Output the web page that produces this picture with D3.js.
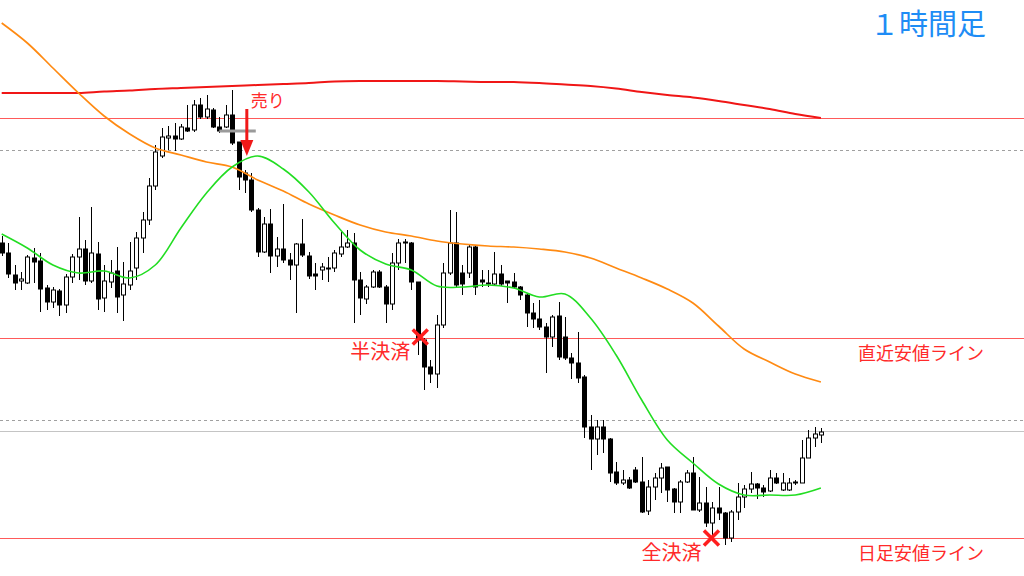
<!DOCTYPE html>
<html><head><meta charset="utf-8">
<script src="https://cdn.jsdelivr.net/npm/d3@7"></script>
<style>html,body{margin:0;padding:0;background:#fff;}svg{display:block;}</style>
</head><body>
<svg id="chart" width="1024" height="576"></svg>
<script>
// ---- Data (prices in chart units) ----
const candleOpen = [357,347,325,319,317,342,339,312,298,309,295,323,343,351,319,346,302,318,329,305,315,332,362,380,414,444,462,464,461,472,470,495,483,490,473,473,485,458,427,420,390,348,376,344,351,340,335,356,344,326,330,331,332,346,353,357,320,301,313,328,313,296,337,357,357,318,260,233,226,275,327,357,327,327,353,320,316,316,326,319,318,313,305,287,281,273,263,284,263,242,237,223,173,161,173,161,128,117,120,130,118,89,113,122,133,111,98,118,127,90,97,77,92,87,62,88,103,111,116,112,109,122,110,110,117,117,142,162,165];
const candleHigh = [364,357,335,328,345,352,347,315,313,311,326,346,383,360,393,358,335,340,353,338,358,368,388,422,455,472,474,477,476,495,500,502,505,492,483,495,510,458,430,427,392,383,391,363,396,347,357,381,348,337,337,343,350,368,370,367,328,315,330,330,315,347,361,361,358,318,262,240,285,337,390,388,335,355,355,330,330,348,335,319,327,314,307,297,300,277,285,298,283,247,268,225,185,180,180,162,138,130,123,133,143,120,127,137,133,112,120,130,143,123,113,98,113,88,90,117,115,128,117,115,130,127,127,122,120,160,170,173,172];
const candleLow = [344,322,310,310,316,317,288,290,292,284,287,317,320,315,317,290,288,312,287,279,310,320,347,375,410,442,450,449,460,468,468,481,481,472,467,472,455,410,407,388,343,347,327,333,337,320,287,343,321,310,320,318,328,343,352,277,285,296,312,312,277,290,330,337,310,245,210,217,212,272,325,313,305,322,305,313,313,315,314,297,311,300,273,272,270,227,253,240,240,221,217,162,130,145,147,118,115,115,111,117,87,85,100,107,98,87,87,117,90,88,73,63,80,55,58,80,92,107,101,103,108,116,109,109,115,117,142,153,157];
const candleClose = [347,326,317,321,343,338,311,298,310,295,323,343,351,319,347,301,319,327,303,316,329,362,380,414,448,463,464,461,473,469,495,483,491,473,469,485,457,423,420,390,348,376,344,351,340,335,356,345,324,324,333,332,347,353,357,320,302,313,328,313,296,337,357,358,318,260,233,226,275,327,357,315,316,353,313,318,317,326,316,317,313,305,287,281,273,263,283,243,242,237,222,173,161,173,161,127,117,120,112,118,88,113,122,132,110,98,118,127,90,97,77,92,87,62,88,103,111,116,112,108,122,117,117,117,118,142,162,166,168];

// Moving averages sampled every 4th candle
const maIndex = d3.range(0, 129, 4);
const maLong  = [507,507,507,507,508.5,509.5,511,512,513,514,515,516,517,518.5,519,519,519,519,518.5,518,518,517,515.5,514,511.5,508,505,502.5,499,495,491,486,482];
const maMid   = [577,557,532,507,484,466,452,445,438,433,420,409,396,385,375,368,364,359,356,354,353,351,348,342,332,322,311,297,274,251,238,226,218];
const maShort = [366,352,335,327,329,322,335,372,407,433,444,431,408,377,350,336,330,314,313,315,312,303,306,282,245,200,160,137,116,105,105,105,112];

// Horizontal levels
const redLevels = [482, 262.5, 62];
const dashedLevels = [450, 180.5];
const solidGrayLevels = [169];
const levelLabels = ["直近安値ライン", "日足安値ライン"];
const labelLevels = [262.5, 62];

// Trade annotations
const entry = {from: 34, to: 39.7, price: 469};
const sellSignal = {index: 38.3, top: 491, tip: 444, label: "売り"};
const exits = [{index: 65.4, price: 263, label: "半決済"}, {index: 110.9, price: 62, label: "全決済"}];
const title = "１時間足";

// ---- Drawing ----
const W = 1024, H = 576;
const svg = d3.select("#chart");
const x = d3.scaleLinear().domain([0, 128]).range([1.7, 820.9]);
const y = d3.scaleLinear().domain([0, 600]).range([600, 0]);
const cx = i => Math.round(x(i)) + 0.5;

const candles = candleOpen.map((o, i) => ({i, o, h: candleHigh[i], l: candleLow[i], c: candleClose[i]}));

// level lines
svg.selectAll(".dash").data(dashedLevels).join("line")
  .attr("x1", 0).attr("x2", W).attr("y1", d => Math.round(y(d)) + 0.5).attr("y2", d => Math.round(y(d)) + 0.5)
  .attr("stroke", "#a0a0a0").attr("stroke-width", 1).attr("stroke-dasharray", "3,3");
svg.selectAll(".sg").data(solidGrayLevels).join("line")
  .attr("x1", 0).attr("x2", W).attr("y1", d => Math.round(y(d)) + 0.5).attr("y2", d => Math.round(y(d)) + 0.5)
  .attr("stroke", "#c4c4c4").attr("stroke-width", 1);
svg.selectAll(".rl").data(redLevels).join("line")
  .attr("x1", 0).attr("x2", W).attr("y1", d => Math.round(y(d)) + 0.5).attr("y2", d => Math.round(y(d)) + 0.5)
  .attr("stroke", "#ff5a5a").attr("stroke-width", 1.2);

// candles
const g = svg.append("g");
g.selectAll(".wick").data(candles).join("line")
  .attr("x1", d => cx(d.i)).attr("x2", d => cx(d.i))
  .attr("y1", d => y(d.h)).attr("y2", d => y(d.l))
  .attr("stroke", "#000").attr("stroke-width", 1);
g.selectAll(".body").data(candles).join("rect")
  .attr("x", d => cx(d.i) - 2)
  .attr("width", 4)
  .attr("y", d => y(Math.max(d.o, d.c)))
  .attr("height", d => Math.max(1, Math.abs(y(d.o) - y(d.c))))
  .attr("fill", d => d.c >= d.o ? "#fff" : "#000")
  .attr("stroke", "#000").attr("stroke-width", 1);

// moving averages
const line = d3.line().x((d, k) => x(maIndex[k])).y(d => y(d)).curve(d3.curveCatmullRom);
svg.append("path").attr("d", line(maLong)).attr("fill", "none").attr("stroke", "#f01616").attr("stroke-width", 2);
svg.append("path").attr("d", line(maMid)).attr("fill", "none").attr("stroke", "#ff8a12").attr("stroke-width", 1.7);
svg.append("path").attr("d", line(maShort)).attr("fill", "none").attr("stroke", "#22dd22").attr("stroke-width", 1.6);

// entry line
svg.append("line").attr("x1", x(entry.from)).attr("x2", x(entry.to))
  .attr("y1", y(entry.price)).attr("y2", y(entry.price))
  .attr("stroke", "#9a9a9a").attr("stroke-width", 3);

// sell arrow
const ax = x(sellSignal.index);
svg.append("line").attr("x1", ax).attr("x2", ax).attr("y1", y(sellSignal.top)).attr("y2", y(sellSignal.tip) - 12)
  .attr("stroke", "#f01818").attr("stroke-width", 3);
svg.append("path")
  .attr("d", `M${ax - 6.5},${y(sellSignal.tip) - 16} L${ax + 6.5},${y(sellSignal.tip) - 16} L${ax},${y(sellSignal.tip)} Z`)
  .attr("fill", "#f01818");
svg.append("text").attr("x", ax + 4).attr("y", y(sellSignal.top) - 2)
  .attr("font-family", "'Noto Sans CJK JP', sans-serif").attr("font-size", 17).attr("fill", "#ff2a2a")
  .text(sellSignal.label);

// exit markers
exits.forEach(e => {
  const ex = x(e.index), ey = y(e.price), s = 7.5;
  svg.append("path").attr("d", `M${ex - s},${ey - s} L${ex + s},${ey + s} M${ex + s},${ey - s} L${ex - s},${ey + s}`)
    .attr("stroke", "#ff1e1e").attr("stroke-width", 3.5).attr("fill", "none");
  svg.append("text").attr("x", ex - 10).attr("y", ey + 22).attr("text-anchor", "end")
    .attr("font-family", "'Noto Sans CJK JP', sans-serif").attr("font-size", 20).attr("fill", "#ff2a2a")
    .text(e.label);
});

// level labels
svg.selectAll(".ll").data(levelLabels).join("text")
  .attr("x", 921).attr("y", (d, k) => y(labelLevels[k]) + 22)
  .attr("text-anchor", "middle")
  .attr("font-family", "'Noto Sans CJK JP', sans-serif").attr("font-size", 18).attr("fill", "#ff2a2a")
  .text(d => d);

// title
svg.append("text").attr("x", 986).attr("y", 35).attr("text-anchor", "end")
  .attr("font-family", "'Noto Sans CJK JP', sans-serif").attr("font-size", 29).attr("fill", "#1e8cf5")
  .text(title);
</script>
</body></html>
